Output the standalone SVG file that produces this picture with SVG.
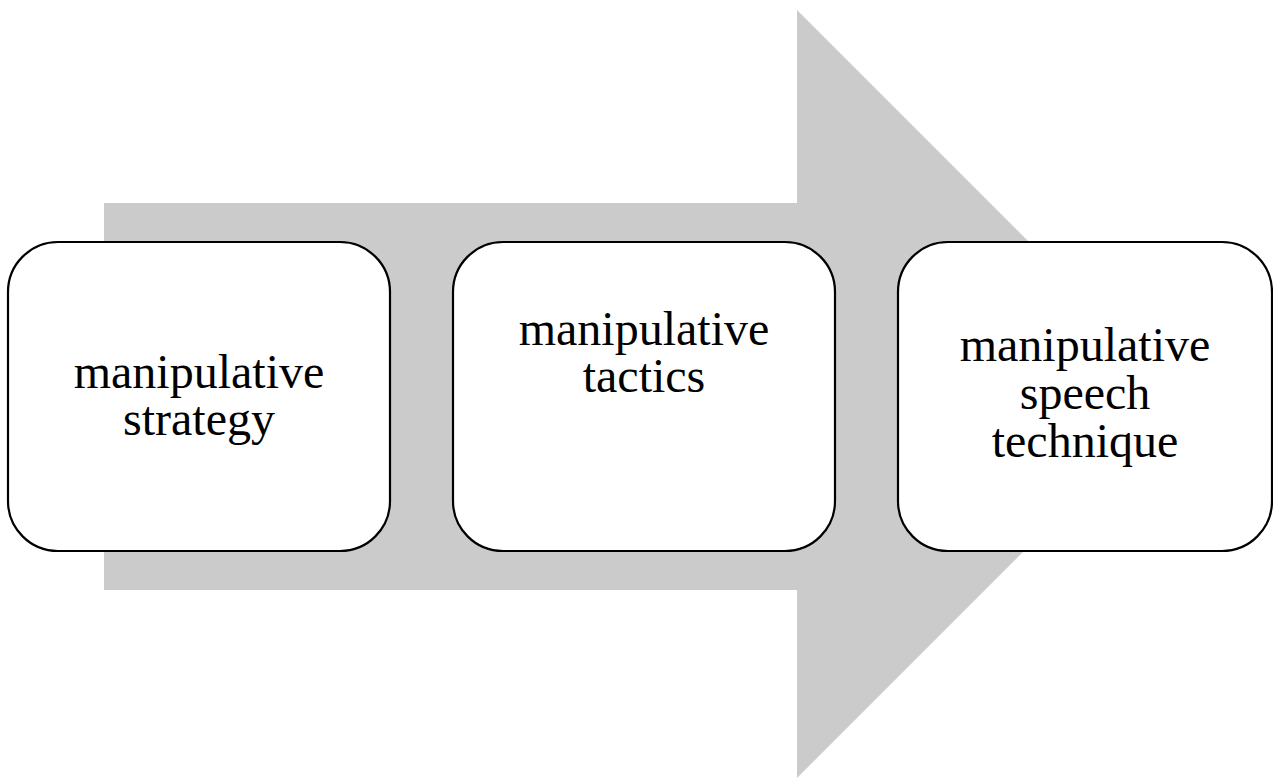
<svg xmlns="http://www.w3.org/2000/svg" width="1273" height="780" viewBox="0 0 1273 780">
<style>
.box{fill:#ffffff;stroke:#000000;stroke-width:2.2}
.t{font-family:"Liberation Serif","Times New Roman",serif;font-size:48px;fill:#000000;text-anchor:middle}
</style>
<rect width="1273" height="780" fill="#ffffff"/>
<g id="arrow">
<polygon points="104,203 797,203 797,10 1181,394 797,778 797,590 104,590" fill="#cbcbcb"/>
</g>
<g id="connectors"></g>
<g id="node1">
<rect class="box" x="8" y="242" width="382" height="309" rx="50" ry="50"/>
<text class="t" x="199" y="388">manipulative</text>
<text class="t" x="199" y="435">strategy</text>
</g>
<g id="node2">
<rect class="box" x="453" y="242" width="382" height="309" rx="50" ry="50"/>
<text class="t" x="644" y="345">manipulative</text>
<text class="t" x="644" y="392">tactics</text>
</g>
<g id="node3">
<rect class="box" x="898" y="242" width="374" height="309" rx="50" ry="50"/>
<text class="t" x="1085" y="361">manipulative</text>
<text class="t" x="1085" y="409">speech</text>
<text class="t" x="1085" y="457">technique</text>
</g>
</svg>
